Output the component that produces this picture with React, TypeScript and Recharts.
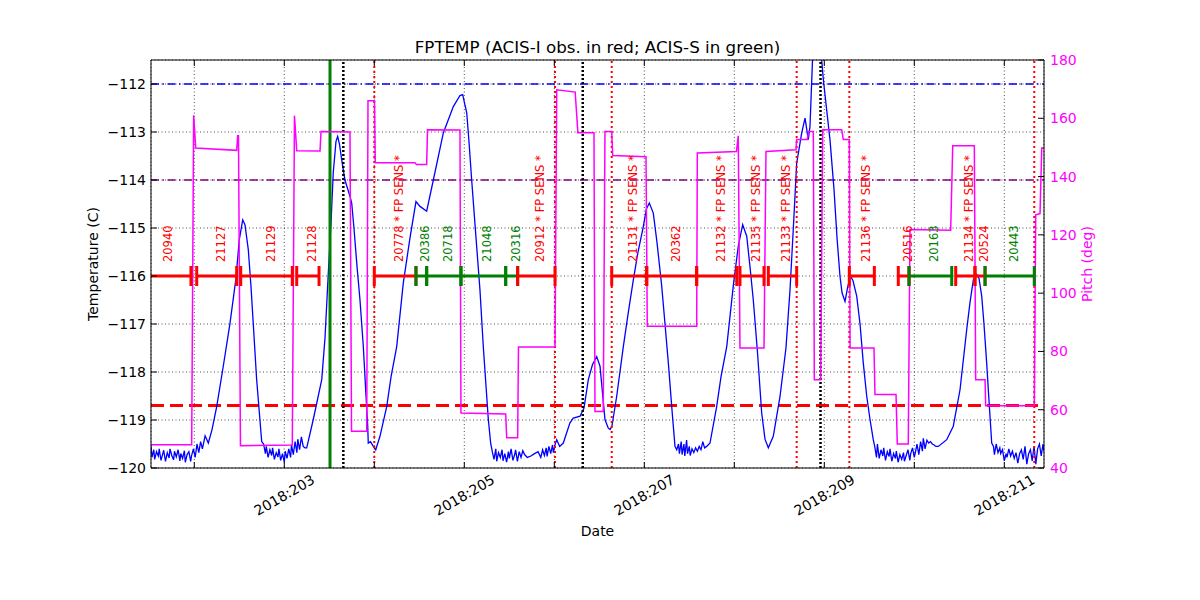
import {
  ComposedChart,
  Line,
  XAxis,
  YAxis,
  CartesianGrid,
  ReferenceLine,
  ReferenceDot,
  Label,
} from 'recharts';

const FONT = '"DejaVu Sans", sans-serif';
const BLUE = '#0000ff';
const MAGENTA = '#ff00ff';
const RED = '#ff0000';
const GREEN = '#008000';

// x range in day-of-year 2018
const dayDomain: [number, number] = [201.519, 211.441];
const dayTicks = [202, 203, 204, 205, 206, 207, 208, 209, 210, 211];
const tempTicks = [-120, -119, -118, -117, -116, -115, -114, -113, -112];
const pitchTicks = [40, 60, 80, 100, 120, 140, 160, 180];

// FPTEMP model, [day, degC]
const fptemp: [number, number][] = [
  [201.52, -119.55], [201.53, -119.78], [201.55, -119.62], [201.56, -119.82], [201.58, -119.66],
  [201.6, -119.75], [201.61, -119.6], [201.63, -119.84], [201.65, -119.7], [201.66, -119.63],
  [201.68, -119.86], [201.7, -119.68], [201.72, -119.79], [201.73, -119.6], [201.75, -119.74],
  [201.77, -119.83], [201.78, -119.65], [201.8, -119.77], [201.82, -119.62], [201.84, -119.85],
  [201.85, -119.7], [201.87, -119.8], [201.89, -119.64], [201.9, -119.88], [201.92, -119.72],
  [201.94, -119.66], [201.96, -119.86], [201.97, -119.74], [201.99, -119.6], [202.01, -119.78],
  [202.03, -119.5], [202.05, -119.68], [202.07, -119.45], [202.09, -119.6], [202.12, -119.33],
  [202.156, -119.48], [202.197, -119.2], [202.249, -118.72], [202.322, -117.88], [202.397, -116.98],
  [202.463, -116.05], [202.5, -115.24], [202.538, -114.83], [202.563, -114.93], [202.6, -115.45],
  [202.63, -116.22], [202.693, -118.16], [202.749, -119.45],
  [202.77, -119.5], [202.79, -119.7], [202.8, -119.55], [202.82, -119.78], [202.84, -119.62],
  [202.86, -119.74], [202.87, -119.58], [202.89, -119.82], [202.91, -119.68], [202.93, -119.77],
  [202.94, -119.6], [202.96, -119.84], [202.98, -119.7], [203.0, -119.88], [203.01, -119.65],
  [203.03, -119.8], [203.05, -119.6], [203.07, -119.78], [203.08, -119.52], [203.1, -119.72],
  [203.12, -119.45], [203.14, -119.68], [203.15, -119.4], [203.17, -119.62], [203.19, -119.35],
  [203.21, -119.55], [203.23, -119.58], [203.249, -119.58], [203.322, -118.99], [203.416, -118.16],
  [203.452, -117.3], [203.489, -115.94], [203.519, -114.9], [203.544, -113.85], [203.574, -113.2],
  [203.593, -113.09], [203.613, -113.25], [203.638, -113.58], [203.674, -114.0], [203.73, -114.34],
  [203.749, -114.48], [203.774, -115.0], [203.808, -115.8], [203.841, -116.5], [203.878, -117.47],
  [203.908, -118.5], [203.927, -119.13], [203.933, -119.48], [203.958, -119.45], [203.989, -119.55],
  [204.016, -119.62], [204.063, -119.34], [204.138, -118.72], [204.186, -118.1], [204.249, -117.47],
  [204.322, -116.15], [204.397, -115.2], [204.463, -114.45], [204.508, -114.55], [204.582, -114.65],
  [204.656, -114.0], [204.767, -113.02], [204.878, -112.47], [204.952, -112.24], [204.982, -112.22],
  [205.027, -112.6], [205.052, -113.2], [205.082, -114.0], [205.13, -115.2], [205.174, -116.29],
  [205.211, -117.47], [205.267, -118.99], [205.293, -119.48],
  [205.31, -119.65], [205.33, -119.82], [205.35, -119.6], [205.36, -119.86], [205.38, -119.68],
  [205.4, -119.78], [205.42, -119.62], [205.43, -119.85], [205.45, -119.7], [205.47, -119.88],
  [205.49, -119.66], [205.5, -119.8], [205.52, -119.6], [205.54, -119.84], [205.56, -119.72],
  [205.57, -119.62], [205.59, -119.86], [205.61, -119.66], [205.63, -119.78], [205.65, -119.64],
  [205.67, -119.72], [205.7, -119.78], [205.74, -119.75], [205.78, -119.7], [205.82, -119.66],
  [205.85, -119.78], [205.87, -119.62], [205.89, -119.74], [205.91, -119.58], [205.92, -119.76],
  [205.94, -119.55], [205.96, -119.7], [205.98, -119.52], [205.99, -119.68], [206.01, -119.5],
  [206.027, -119.41], [206.06, -119.55], [206.1, -119.48], [206.174, -119.06], [206.211, -118.96],
  [206.286, -118.92], [206.33, -118.75], [206.378, -118.16], [206.424, -117.85], [206.471, -117.68],
  [206.508, -117.88], [206.563, -118.99], [206.6, -119.17], [206.62, -119.2], [206.64, -119.13],
  [206.693, -118.51], [206.767, -117.47], [206.819, -116.8], [206.878, -116.08], [206.93, -115.5],
  [206.989, -114.97], [207.024, -114.6], [207.056, -114.48], [207.1, -114.69], [207.141, -115.3],
  [207.193, -116.2], [207.23, -117.0], [207.267, -117.81], [207.308, -118.8], [207.341, -119.55],
  [207.36, -119.62], [207.38, -119.5], [207.39, -119.7], [207.41, -119.45], [207.42, -119.72],
  [207.44, -119.5], [207.45, -119.75], [207.47, -119.42], [207.48, -119.7], [207.5, -119.55],
  [207.51, -119.74], [207.53, -119.6], [207.55, -119.68], [207.57, -119.58], [207.59, -119.65],
  [207.61, -119.55], [207.63, -119.62], [207.65, -119.45], [207.67, -119.58], [207.693, -119.55],
  [207.73, -119.48], [207.804, -118.72], [207.852, -118.1], [207.916, -117.47], [207.989, -116.2],
  [208.044, -115.38], [208.093, -114.93], [208.138, -115.17], [208.174, -115.8], [208.211, -116.5],
  [208.258, -117.6], [208.304, -118.85], [208.341, -119.4], [208.378, -119.58], [208.433, -119.34],
  [208.508, -118.51], [208.574, -117.5], [208.619, -116.29], [208.656, -115.0], [208.693, -113.65],
  [208.749, -113.02], [208.786, -112.71], [208.822, -113.16], [208.841, -112.88], [208.871, -111.4],
  [208.919, -110.6], [208.971, -111.5], [208.989, -111.9], [209.024, -112.5], [209.063, -113.16],
  [209.108, -114.2], [209.141, -115.2], [209.174, -116.0], [209.197, -116.35], [209.23, -116.53],
  [209.263, -116.2], [209.291, -116.0], [209.319, -116.1], [209.36, -116.42], [209.397, -117.0],
  [209.433, -117.81], [209.471, -118.5], [209.508, -118.99], [209.544, -119.41],
  [209.56, -119.55], [209.58, -119.78], [209.59, -119.5], [209.61, -119.8], [209.63, -119.62],
  [209.65, -119.75], [209.66, -119.58], [209.68, -119.84], [209.7, -119.66], [209.72, -119.76],
  [209.73, -119.6], [209.75, -119.86], [209.77, -119.7], [209.79, -119.8], [209.8, -119.65],
  [209.82, -119.88], [209.84, -119.72], [209.86, -119.82], [209.88, -119.68], [209.89, -119.86],
  [209.91, -119.74], [209.93, -119.62], [209.95, -119.84], [209.96, -119.7], [209.98, -119.58],
  [210.0, -119.78], [210.02, -119.6], [210.03, -119.5], [210.05, -119.72], [210.07, -119.45],
  [210.09, -119.65], [210.1, -119.38], [210.12, -119.6], [210.14, -119.42], [210.16, -119.48],
  [210.18, -119.45], [210.2, -119.5], [210.22, -119.52], [210.24, -119.55], [210.267, -119.55],
  [210.36, -119.41], [210.433, -119.13], [210.508, -118.37], [210.582, -117.12], [210.619, -116.55],
  [210.656, -116.08], [210.693, -115.97], [210.719, -116.05], [210.749, -116.42], [210.774, -117.0],
  [210.804, -117.81], [210.83, -118.6], [210.86, -119.48],
  [210.88, -119.55], [210.89, -119.72], [210.91, -119.5], [210.93, -119.68], [210.95, -119.58],
  [210.96, -119.7], [210.98, -119.62], [211.0, -119.85], [211.02, -119.7], [211.03, -119.78],
  [211.05, -119.6], [211.07, -119.75], [211.09, -119.65], [211.11, -119.8], [211.13, -119.68],
  [211.15, -119.9], [211.17, -119.7], [211.19, -119.62], [211.21, -119.82], [211.23, -119.55],
  [211.25, -119.92], [211.27, -119.7], [211.29, -119.62], [211.31, -119.85], [211.33, -119.55],
  [211.35, -119.92], [211.37, -119.6], [211.39, -119.5], [211.41, -119.75], [211.43, -119.5],
  [211.44, -119.65],
];

// Pitch, [day, deg]
const pitch: [number, number][] = [
  [201.519, 48.0], [201.971, 48.0], [201.993, 161.0], [202.016, 149.8], [202.471, 149.0],
  [202.482, 154.0], [202.491, 154.0], [202.513, 47.6], [203.089, 47.9], [203.113, 160.9],
  [203.138, 148.9], [203.397, 148.8], [203.408, 155.5], [203.73, 155.3], [203.747, 52.6],
  [203.916, 52.6], [203.93, 166.0], [204.002, 166.0], [204.011, 144.7], [204.452, 144.7],
  [204.469, 144.1], [204.582, 144.1], [204.591, 156.1], [204.952, 156.0], [204.963, 58.9],
  [205.46, 58.5], [205.471, 50.4], [205.593, 50.4], [205.602, 81.5], [206.008, 81.5],
  [206.027, 169.8], [206.232, 169.0], [206.262, 155.0], [206.441, 155.0], [206.452, 59.4],
  [206.544, 59.4], [206.563, 155.5], [206.638, 155.5], [206.649, 147.2], [207.019, 146.8],
  [207.033, 88.6], [207.582, 88.6], [207.589, 148.1], [208.024, 148.6], [208.044, 154.0],
  [208.063, 81.2], [208.33, 81.2], [208.352, 148.6], [208.686, 149.2], [208.693, 152.7],
  [208.811, 152.7], [208.827, 155.5], [208.878, 155.5], [208.889, 70.3], [208.96, 70.3],
  [208.982, 156.1], [209.193, 156.1], [209.211, 152.7], [209.278, 152.7], [209.286, 81.2],
  [209.552, 81.2], [209.563, 65.2], [209.797, 65.2], [209.811, 48.2], [209.933, 48.2],
  [209.952, 121.8], [210.404, 121.6], [210.427, 150.6], [210.667, 150.6], [210.682, 70.3],
  [210.786, 70.3], [210.793, 61.4], [211.333, 61.4], [211.349, 126.9], [211.397, 127.3],
  [211.416, 149.8], [211.441, 149.8],
];

// Observations (ACIS-I red, ACIS-S green)
const obsIds = [
  '20940', '21127', '21129', '21128', '20778', '20386', '20718', '21048', '20316', '20912', '21131',
  '20362', '21132', '21135', '21133', '21136', '20516', '20163', '21134', '20524', '20443',
];
const obsStart = [
  201.37, 202.027, 202.516, 203.138, 204.0, 204.463, 204.582, 204.963, 205.46, 205.593, 206.638,
  207.027, 207.582, 208.063, 208.378, 209.278, 209.822, 209.941, 210.46, 210.674, 210.786,
];
const obsStop = [
  201.963, 202.471, 203.089, 203.386, 204.463, 204.582, 204.963, 205.46, 205.593, 206.008, 207.027,
  207.582, 208.027, 208.33, 208.693, 209.556, 209.941, 210.416, 210.674, 210.786, 211.333,
];
const obsInstr = [
  'I', 'I', 'I', 'I', 'I', 'S', 'S', 'S', 'S', 'I', 'I',
  'I', 'I', 'I', 'I', 'I', 'I', 'S', 'I', 'I', 'S',
];
const obsFpSens = [
  false, false, false, false, true, false, false, false, false, true, true,
  false, true, true, true, true, false, false, true, false, false,
];
const OBS_LEVEL = -116;

// limits in degC
const acisSLimit = -112;
const acisILimit = -114;
const coldLimit = -118.7;

// event markers (days)
const greenEvents = [203.508];
const blackEvents = [203.656, 206.316, 208.958];
const redEvents = [204.0, 206.008, 206.638, 208.693, 209.278, 211.333];

const tempData = fptemp.map(([t, v]) => ({ t, v }));
const pitchData = pitch.map(([t, v]) => ({ t, v }));

const fmtTemp = (v: number) => (v < 0 ? `\u2212${Math.abs(v)}` : `${v}`);

function DateTick(props: any) {
  const { x, y, payload } = props;
  const day = payload.value as number;
  if (day % 2 === 0) return <g />;
  const cy = y + 33;
  return (
    <text
      x={x}
      y={cy + 5}
      textAnchor="middle"
      transform={`rotate(-30 ${x} ${cy})`}
      fontFamily={FONT}
      fontSize={14}
      fill="#000"
    >
      {`2018:${day}`}
    </text>
  );
}

export default function App() {
  const obs = obsIds.map((id, i) => ({
    id,
    start: obsStart[i],
    stop: obsStop[i],
    color: obsInstr[i] === 'I' ? RED : GREEN,
    label: obsFpSens[i] ? `${id} * FP SENS *` : id,
  }));

  return (
    <div style={{ position: 'absolute', left: 0, top: 0, background: '#fff' }}>
      <ComposedChart width={1200} height={600} margin={{ top: 59, right: 0, bottom: 0, left: 0 }}>
        <XAxis
          xAxisId="x"
          dataKey="t"
          type="number"
          domain={dayDomain}
          allowDataOverflow
          ticks={dayTicks}
          tick={<DateTick />}
          tickSize={-6}
          tickMargin={0}
          height={132}
          stroke="#000"
          interval={0}
        >
          <Label
            content={() => (
              <text x={597.5} y={536} textAnchor="middle" fontFamily={FONT} fontSize={14} fill="#000">
                Date
              </text>
            )}
          />
        </XAxis>
        <XAxis
          xAxisId="top"
          orientation="top"
          dataKey="t"
          type="number"
          domain={dayDomain}
          allowDataOverflow
          ticks={dayTicks}
          tickFormatter={() => ''}
          tickSize={-6}
          height={1}
          stroke="#000"
          interval={0}
        >
          <Label
            content={() => (
              <text x={597.5} y={53} textAnchor="middle" fontFamily={FONT} fontSize={16.7} fill="#000">
                FPTEMP (ACIS-I obs. in red; ACIS-S in green)
              </text>
            )}
          />
        </XAxis>
        <YAxis
          yAxisId="left"
          type="number"
          domain={[-120, -111.5]}
          allowDataOverflow
          ticks={tempTicks}
          tickFormatter={fmtTemp}
          tickSize={-6}
          tickMargin={11}
          width={151}
          stroke="#000"
          tick={{ fill: '#000', fontSize: 14, fontFamily: FONT }}
          interval={0}
        >
          <Label
            content={() => (
              <text
                x={93}
                y={264}
                transform="rotate(-90 93 264)"
                textAnchor="middle"
                dominantBaseline="central"
                fontFamily={FONT}
                fontSize={14}
                fill="#000"
              >
                Temperature (C)
              </text>
            )}
          />
        </YAxis>
        <YAxis
          yAxisId="pitch"
          orientation="right"
          type="number"
          domain={[40, 180]}
          allowDataOverflow
          ticks={pitchTicks}
          tickSize={-6}
          tickMargin={12}
          width={156}
          stroke="#000"
          tick={{ fill: MAGENTA, fontSize: 14, fontFamily: FONT }}
          interval={0}
        >
          <Label
            content={() => (
              <text
                x={1087}
                y={264}
                transform="rotate(-90 1087 264)"
                textAnchor="middle"
                dominantBaseline="central"
                fontFamily={FONT}
                fontSize={14}
                fill={MAGENTA}
              >
                Pitch (deg)
              </text>
            )}
          />
        </YAxis>

        <CartesianGrid xAxisId="x" yAxisId="left" stroke="#000" strokeWidth={0.7} strokeDasharray="1 2.5" />

        <ReferenceLine xAxisId="x" yAxisId="left" y={acisSLimit} stroke={BLUE} strokeWidth={1.3} strokeDasharray="8 3.5 1.5 3.5" />
        <ReferenceLine xAxisId="x" yAxisId="left" y={acisILimit} stroke="#800080" strokeWidth={1.3} strokeDasharray="8 3.5 1.5 3.5" />
        <ReferenceLine xAxisId="x" yAxisId="left" y={coldLimit} stroke={RED} strokeWidth={3} strokeDasharray="13 6" />

        <Line
          xAxisId="x"
          yAxisId="left"
          data={tempData}
          dataKey="v"
          stroke={BLUE}
          strokeWidth={1.3}
          dot={false}
          isAnimationActive={false}
        />

        {obs.map((o) => (
          <Line
            key={`obs-${o.id}`}
            xAxisId="x"
            yAxisId="left"
            data={[
              { t: o.start, v: OBS_LEVEL },
              { t: o.stop, v: OBS_LEVEL },
            ]}
            dataKey="v"
            stroke={o.color}
            strokeWidth={3}
            isAnimationActive={false}
            dot={(p: any) => (
              <line
                key={`tick-${o.id}-${p.index}`}
                x1={p.cx}
                x2={p.cx}
                y1={p.cy - 10}
                y2={p.cy + 10}
                stroke={o.color}
                strokeWidth={3}
              />
            )}
          />
        ))}

        {obs.map((o) => (
          <ReferenceDot
            key={`lbl-${o.id}`}
            xAxisId="x"
            yAxisId="left"
            x={(Math.max(o.start, dayDomain[0]) + o.stop) / 2 + (o.start < dayDomain[0] ? -0.08 : 0)}
            y={OBS_LEVEL}
            r={0}
            shape={(p: any) => {
              const tx = p.cx + 8;
              const ty = p.cy - 14;
              return (
                <text
                  x={tx}
                  y={ty}
                  transform={`rotate(-90 ${tx} ${ty})`}
                  textAnchor="start"
                  fontFamily={FONT}
                  fontSize={11.5}
                  fill={o.color}
                >
                  {o.label}
                </text>
              );
            }}
          />
        ))}

        {greenEvents.map((d) => (
          <ReferenceLine key={`g-${d}`} xAxisId="x" yAxisId="left" x={d} stroke={GREEN} strokeWidth={3} />
        ))}
        {blackEvents.map((d) => (
          <ReferenceLine key={`k-${d}`} xAxisId="x" yAxisId="left" x={d} stroke="#000" strokeWidth={2.5} strokeDasharray="2 2" />
        ))}
        {redEvents.map((d) => (
          <ReferenceLine key={`r-${d}`} xAxisId="x" yAxisId="left" x={d} stroke={RED} strokeWidth={2} strokeDasharray="2 3" />
        ))}

        <Line
          xAxisId="x"
          yAxisId="pitch"
          data={pitchData}
          dataKey="v"
          stroke={MAGENTA}
          strokeWidth={1.5}
          dot={false}
          isAnimationActive={false}
        />
      </ComposedChart>
    </div>
  );
}
